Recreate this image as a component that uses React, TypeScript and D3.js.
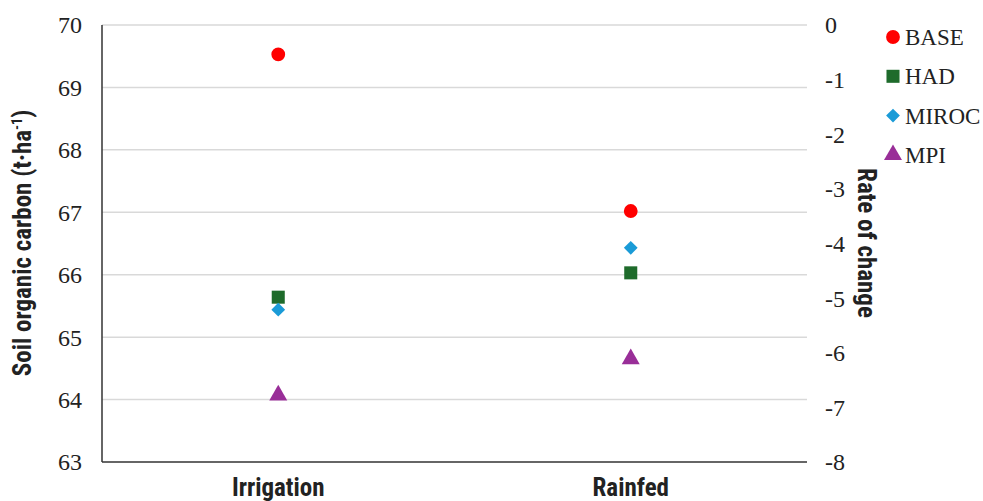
import * as d3 from "d3";

const categories = ["Irrigation", "Rainfed"];
const seriesNames = ["BASE", "HAD", "MIROC", "MPI"];
const baseValues = [69.53, 67.02];
const hadValues = [65.64, 66.03];
const mirocValues = [65.44, 66.43];
const mpiValues = [64.07, 64.65];
const leftTicks = [63, 64, 65, 66, 67, 68, 69, 70];
const rightTicks = [0, -1, -2, -3, -4, -5, -6, -7, -8];

const colors = ["#ff0000", "#1e6b2b", "#1a9bd7", "#992e98"];
const symbols = [d3.symbolCircle, d3.symbolSquare, d3.symbolSquare, d3.symbolTriangle];
const sizes = [150, 170, 95, 140];
const rotations = [0, 0, 45, 0];

const W = 983;
const H = 501;
const M = { left: 102, right: 807, top: 25, bottom: 462 };
const serif = "'Liberation Serif', 'Times New Roman', serif";
const narrow = "'Roboto Condensed', 'Liberation Sans Narrow', sans-serif";

export default function App() {
  const x = d3.scaleBand().domain(categories).range([M.left, M.right]);
  const y = d3.scaleLinear().domain([63, 70]).range([M.bottom, M.top]);
  const y2 = d3.scaleLinear().domain([-8, 0]).range([M.bottom, M.top]);
  const series = [baseValues, hadValues, mirocValues, mpiValues];

  return (
    <svg width={W} height={H} style={{ position: "absolute", left: 0, top: 0, background: "#fff" }}>
      {leftTicks.slice(1).map((t) => (
        <line key={t} x1={M.left} x2={M.right} y1={y(t)} y2={y(t)} stroke="#d9d9d9" strokeWidth={1.5} />
      ))}
      <line x1={M.left} x2={M.left} y1={M.top} y2={M.bottom} stroke="#333" strokeWidth={1.5} />
      <line x1={M.left} x2={M.right} y1={M.bottom} y2={M.bottom} stroke="#333" strokeWidth={1.5} />
      {leftTicks.map((t) => (
        <text key={t} x={82} y={y(t)} dy="0.35em" textAnchor="end" fontFamily={serif} fontSize={24} fill="#222">
          {t}
        </text>
      ))}
      {rightTicks.map((t) => (
        <text key={t} x={825} y={y2(t)} dy="0.35em" textAnchor="start" fontFamily={serif} fontSize={24} fill="#222">
          {t}
        </text>
      ))}
      {categories.map((c) => (
        <text key={c} x={x(c)! + x.bandwidth() / 2} y={496} textAnchor="middle" fontFamily={narrow} fontWeight="bold" fontSize={25} fill="#222">
          {c}
        </text>
      ))}
      <text transform="translate(31,243) rotate(-90)" textAnchor="middle" fontFamily={narrow} fontWeight="bold" fontSize={25} fill="#222">
        Soil organic carbon (t·ha<tspan dy={-9} fontSize={14}>-1</tspan><tspan dy={9}>)</tspan>
      </text>
      <text transform="translate(858,243) rotate(90)" textAnchor="middle" fontFamily={narrow} fontWeight="bold" fontSize={25} fill="#222">
        Rate of change
      </text>
      {series.map((vals, si) =>
        vals.map((v, ci) => (
          <path
            key={`${si}-${ci}`}
            d={d3.symbol(symbols[si], sizes[si])()!}
            transform={`translate(${x(categories[ci])! + x.bandwidth() / 2},${y(v)}) rotate(${rotations[si]})`}
            fill={colors[si]}
          />
        ))
      )}
      {seriesNames.map((n, i) => (
        <g key={n} transform={`translate(893,${37 + i * 39.3})`}>
          <path d={d3.symbol(symbols[i], sizes[i])()!} transform={`rotate(${rotations[i]})`} fill={colors[i]} />
          <text x={12} dy="0.35em" fontFamily={serif} fontSize={23} fill="#222">
            {n}
          </text>
        </g>
      ))}
    </svg>
  );
}
